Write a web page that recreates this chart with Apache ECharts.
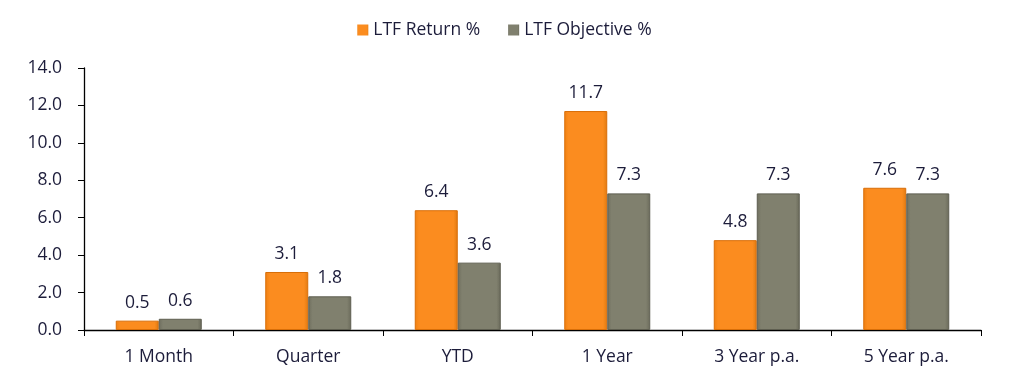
<!DOCTYPE html>
<html><head><meta charset="utf-8">
<script src="https://cdn.jsdelivr.net/npm/echarts@6/dist/echarts.min.js"></script>
<style>html,body{margin:0;padding:0;background:#fff}#c{width:1009px;height:378px}</style>
</head><body><div id="c"></div>
<script>
const categories = ['1 Month','Quarter','YTD','1 Year','3 Year p.a.','5 Year p.a.'];
const ltfReturn = [0.5, 3.1, 6.4, 11.7, 4.8, 7.6];
const ltfObjective = [0.6, 1.8, 3.6, 7.3, 7.3, 7.3];
const seriesNames = ['LTF Return %','LTF Objective %'];
const txt = '#1c1c3a';
const font = 'Open Sans';
const fs = 17.5;
const chart = echarts.init(document.getElementById('c'));
const orange = new echarts.graphic.LinearGradient(0,0,1,0,[{offset:0,color:'#f08010'},{offset:0.1,color:'#fb8c1f'},{offset:0.9,color:'#fb8c1f'},{offset:1,color:'#e07a10'}]);
const gray = new echarts.graphic.LinearGradient(0,0,1,0,[{offset:0,color:'#6e6e5e'},{offset:0.1,color:'#80806e'},{offset:0.9,color:'#80806e'},{offset:1,color:'#6a6a5a'}]);
const label = {show:true,position:'top',distance:9,color:txt,fontFamily:font,fontSize:fs,formatter:p=>p.value.toFixed(1)};
chart.setOption({
  animation:false,
  textStyle:{fontFamily:font},
  legend:{top:16,left:'center',itemWidth:11,itemHeight:11,itemGap:28,itemStyle:{borderWidth:0},icon:'rect',
    textStyle:{color:txt,fontFamily:font,fontSize:fs},data:seriesNames},
  grid:{left:84,right:28,top:68,bottom:48,containLabel:false},
  xAxis:{type:'category',data:categories,
    axisLine:{lineStyle:{color:'#000',width:1.3}},
    axisTick:{show:true,length:6,alignWithLabel:false,lineStyle:{color:'#000'}},
    axisLabel:{color:txt,fontFamily:font,fontSize:fs,margin:18}},
  yAxis:{type:'value',min:0,max:14,interval:2,
    axisLine:{show:true,lineStyle:{color:'#000',width:1.3}},
    axisTick:{show:true,length:6,lineStyle:{color:'#000'}},
    splitLine:{show:false},
    axisLabel:{color:txt,fontFamily:font,fontSize:fs,margin:22,formatter:v=>v.toFixed(1)}},
  series:[
    {name:seriesNames[0],type:'bar',data:ltfReturn,barWidth:43,barGap:'0%',
     itemStyle:{color:orange,borderColor:'#d86e08',borderWidth:1},label:label},
    {name:seriesNames[1],type:'bar',data:ltfObjective,barWidth:43,
     itemStyle:{color:gray,borderColor:'#5e5e50',borderWidth:1},label:label}
  ]
});
</script></body></html>
